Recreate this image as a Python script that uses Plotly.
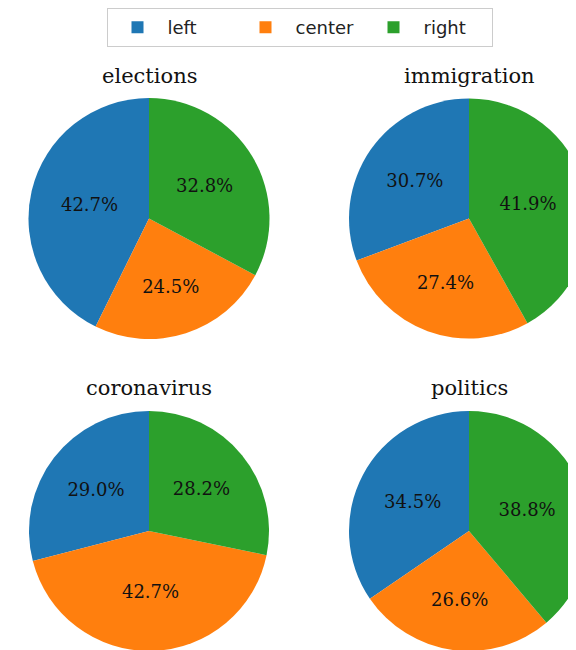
import plotly.graph_objects as go

labels = ["left", "center", "right"]
colors = ["#1f77b4", "#ff7f0e", "#2ca02c"]

topics = ["elections", "immigration", "coronavirus", "politics"]
elections = [42.7, 24.5, 32.8]
immigration = [30.7, 27.4, 41.9]
coronavirus = [29.0, 42.7, 28.2]
politics = [34.5, 26.6, 38.8]
series = [elections, immigration, coronavirus, politics]

FIG_W, FIG_H = 600, 650

def px_x(a, b):
    return [a / FIG_W, b / FIG_W]

def px_y(top, bottom):
    return [max(0.0, 1 - bottom / FIG_H), 1 - top / FIG_H]

# domains for the 2x2 grid (figure pixels); the figure is wider than the
# window so the right-hand pies are cut off at the edge, as in the original
x_doms = [px_x(20, 262), px_x(341, 581)]
y_doms = [px_y(90, 331), px_y(403, 643)]
title_x = [141 / FIG_W, 461 / FIG_W]
title_y = [1 - 68 / FIG_H, 1 - 380 / FIG_H]

fig = go.Figure()
annotations = []
for i, (name, vals) in enumerate(zip(topics, series)):
    r, c = divmod(i, 2)
    # matplotlib-style start: first wedge begins at 12 o'clock, going counterclockwise
    start = -360.0 * vals[0] / sum(vals)
    fig.add_trace(go.Pie(
        labels=labels,
        values=vals,
        sort=False,
        direction="counterclockwise",
        rotation=start,
        marker=dict(colors=colors, line=dict(width=0)),
        texttemplate="%{percent:.1%}",
        textposition="inside",
        insidetextorientation="horizontal",
        textfont=dict(family="DejaVu Serif", size=18, color="#111111"),
        domain=dict(x=x_doms[c], y=y_doms[r]),
        showlegend=(i == 0),
        hoverinfo="label+percent",
        name=name,
    ))
    annotations.append(dict(
        text=name, x=title_x[c], y=title_y[r], xref="paper", yref="paper",
        xanchor="center", yanchor="middle", showarrow=False,
        font=dict(family="DejaVu Serif", size=21, color="#111111"),
    ))

fig.update_layout(
    width=FIG_W, height=FIG_H,
    margin=dict(l=0, r=0, t=0, b=0),
    paper_bgcolor="white",
    plot_bgcolor="white",
    annotations=annotations,
    legend=dict(
        orientation="h",
        x=291.5 / FIG_W, xanchor="center",
        y=1.0, yanchor="top",
        bordercolor="#cccccc", borderwidth=1,
        bgcolor="white",
        itemwidth=50,
        entrywidth=63,
        font=dict(family="DejaVu Sans", size=18, color="#222222"),
        traceorder="normal",
    ),
)

fig.write_html("out.html")
